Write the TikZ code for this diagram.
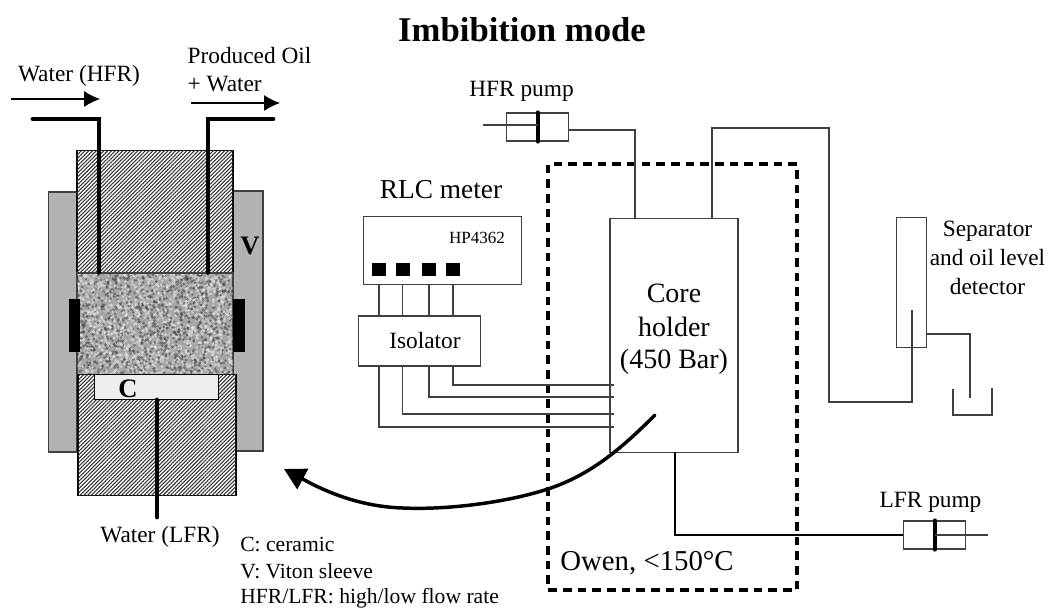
\documentclass[tikz,border=0pt]{standalone}
\usepackage{fontspec}
\setmainfont{Liberation Serif}
\usetikzlibrary{positioning, arrows.meta, patterns.meta}

\newcommand{\txt}[1]{\fontsize{#1}{#1}\selectfont}
\tikzset{
    box/.style={draw=black!75, line width=.9pt, fill=white, inner sep=0pt},
    sleeve/.style={box, fill=black!30},
    hatched/.style={box, draw=black, fill=white, postaction={pattern={Lines[angle=45, distance=2pt, line width=.8pt]}, pattern color=black!80}},
    pad/.style={fill=black, inner sep=0pt},
    tube/.style={line width=3.6pt, line cap=round},
    wire/.style={draw=black!75, line width=.9pt},
    flow/.style={line width=.8pt, -{Latex[length=12pt, width=12pt]}},
    label/.style={inner sep=0pt, align=center, font=\txt{17.5}},
}

\begin{document}
\begin{tikzpicture}[x=.75pt, y=-.75pt]
    \useasboundingbox (0,0) rectangle (1049,613);

    \node[label, font=\txt{26}\bfseries] (title) at (522,30) {Imbibition mode};

    % cell
    \node[sleeve, minimum width=21.5pt, minimum height=195pt] (viL) at (62.5,322) {};
    \node[sleeve, minimum width=22.5pt, minimum height=195pt] (viR) at (248,321) {};
    \node[hatched, minimum width=117pt, minimum height=92pt] (capT) at (155,211.5) {};
    \node[box, fill=black!35, minimum width=117pt, minimum height=76.5pt] (core) at (155,324) {};
    \begin{scope}
        \clip (77.5,274) rectangle (232.5,374);
        \pgfmathsetseed{4362}
        \foreach \i in {1,...,2600} {
            \pgfmathsetmacro{\px}{77+156*rnd}
            \pgfmathsetmacro{\py}{273+102*rnd}
            \pgfmathsetmacro{\shade}{rnd<.42 ? 75 : 8}
            \fill[black!\shade, opacity=.5] (\px,\py) circle (1.15pt);
        }
    \end{scope}
    \node[hatched, minimum width=118.5pt, minimum height=91pt] (capB) at (157,435) {};
    \node[box, draw=black, fill=black!7, minimum width=93.5pt, minimum height=18.5pt] (ceramic) at (156.5,387) {};
    \node[pad, minimum width=8.5pt, minimum height=39.5pt] (padL) at (74.5,325.5) {};
    \node[pad, minimum width=8.5pt, minimum height=39.5pt] (padR) at (239,325.5) {};
    \node[inner sep=0pt, font=\txt{20}\bfseries] (cLabel) at (128,389) {C};
    \node[inner sep=0pt, font=\txt{20}\bfseries] (vLabel) at (250,246) {V};

    \coordinate (inA) at (33,119);
    \coordinate (inB) at (99,119);
    \coordinate (outA) at (273,119);
    \coordinate (outB) at (208,119);
    \coordinate (lowEnd) at (157,517);
    \draw[tube] (inA) -- (inB) -- (inB |- core.north);
    \draw[tube] (outA) -- (outB) -- (outB |- core.north);
    \draw[tube] (ceramic.south -| lowEnd) -- (lowEnd);

    \node[label] (waterH) at (79,76) {Water (HFR)};
    \node[label, align=left] (oil) at (249.5,69.5) {Produced Oil\\[4pt]+ Water};
    \node[label] (waterL) at (160,537) {Water (LFR)};
    \coordinate (arrA) at (11,99);
    \coordinate (arrB) at (100,99);
    \coordinate (arrC) at (191,103);
    \coordinate (arrD) at (280,103);
    \draw[flow] (arrA) -- (arrB);
    \draw[flow] (arrC) -- (arrD);

    \node[label, font=\txt{16.2}, align=left, anchor=north west] (legend) at (240,537) {C: ceramic\\[4.2pt]V: Viton sleeve\\[2.6pt]HFR/LFR: high/low flow rate};

    % oven and core holder
    \node[draw, line width=2.6pt, dash pattern=on 6.5pt off 4.5pt, inner sep=0pt, minimum width=186.5pt, minimum height=319.5pt] (owen) at (672.5,377) {};
    \node[label, font=\txt{21.6}] (owenText) at (647,563) {Owen, <150°C};
    \node[box, minimum width=96pt, minimum height=175pt] (holder) at (674,335.5) {};
    \node[label, font=\txt{21}] (holderText) at (674,329.5) {Core\\[4.5pt]holder\\[3pt](450 Bar)};

    % pumps
    \node[box, minimum width=47pt, minimum height=21pt] (pumpH) at (537.5,127) {};
    \draw[line width=3pt, line cap=round] (pumpH.north) -- (pumpH.south);
    \node[label, above=8pt of pumpH.north, xshift=-12pt] (pumpHText) {HFR pump};
    \node[box, minimum width=47pt, minimum height=21pt] (pumpL) at (934.5,535) {};
    \draw[line width=3pt, line cap=round] (pumpL.north) -- (pumpL.south);
    \node[label, above=6pt of pumpL.north, xshift=-3pt] (pumpLText) {LFR pump};

    \coordinate (hIn) at (483,125);
    \coordinate (lOut) at (988,535);
    \coordinate (hTop) at (635,130);
    \draw[wire] (hIn) -- (pumpH.center |- hIn);
    \draw[wire] (pumpH.east |- hTop) -- (hTop) -- (hTop |- holder.north);
    \draw[wire] (lOut) -- (pumpL.center);
    \draw[wire, draw=black] (pumpL.west) -- (675,535) -- (675,452);

    % separator
    \node[box, minimum width=23pt, minimum height=98pt] (sep) at (911.5,282.5) {};
    \node[label] (sepText) at (987.5,258) {Separator\\[4pt]and oil level\\[4pt]detector};
    \coordinate (oA) at (712,128);
    \coordinate (oB) at (829,128);
    \coordinate (oC) at (829,402);
    \coordinate (oD) at (912,402);
    \coordinate (oE) at (912,310);
    \draw[wire] (oA |- holder.north) -- (oA) -- (oB) -- (oC) -- (oD) -- (oE);
    \coordinate (dA) at (970,334);
    \coordinate (dB) at (970,398);
    \draw[wire] (sep.east |- dA) -- (dA) -- (dB);
    \coordinate (bA) at (953,389);
    \coordinate (bB) at (953,415);
    \coordinate (bC) at (992,415);
    \coordinate (bD) at (992,388);
    \draw[wire] (bA) -- (bB) -- (bC) -- (bD);

    % rlc meter
    \node[label, font=\txt{20.5}] (rlcText) at (441,190) {RLC meter};
    \node[box, minimum width=119pt, minimum height=50.5pt] (rlc) at (442.5,250.5) {};
    \node[label, font=\txt{12.8}] (hp) at (477,238) {HP4362};
    \node[box, minimum width=92pt, minimum height=37.5pt] (iso) at (419.5,341) {};
    \node[label] (isoText) at (425,341) {Isolator};
    \foreach \n/\x/\y in {1/379/427, 2/402.5/414, 3/429/397, 4/453/385} {
        \node[pad, minimum width=10.5pt, minimum height=10pt] (key\n) at (\x,269.5) {};
        \coordinate (end\n) at (614,\y);
        \draw[wire] (key\n.south |- rlc.south) -- (key\n.south |- iso.north);
        \draw[wire] (key\n.south |- iso.south) -- (key\n.south |- end\n) -- (end\n);
    }

    % arrow
    \coordinate (swingA) at (655,415);
    \coordinate (swingB) at (548,489);
    \coordinate (swingC) at (403,508);
    \coordinate (swingD) at (312,484);
    \coordinate (swingE) at (284,469);
    \draw[line width=2.6pt, line cap=round, -{Triangle[length=16pt, width=17pt]}] (swingA) .. controls (620,450) and (590,475) .. (swingB) .. controls (505,503) and (445,510) .. (swingC) .. controls (370,507) and (340,498) .. (swingD) -- (swingE);
\end{tikzpicture}
\end{document}
